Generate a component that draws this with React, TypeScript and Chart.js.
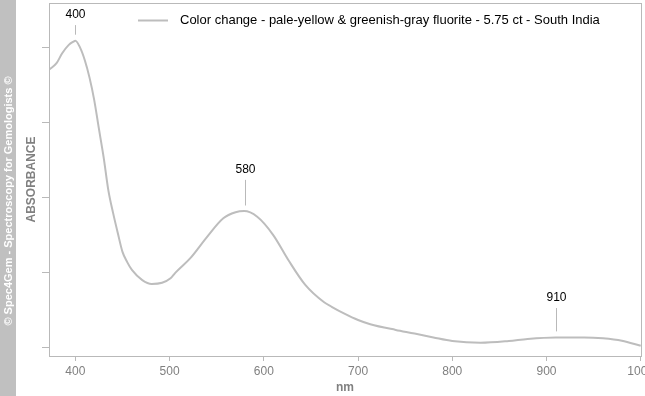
import React, { useEffect, useRef } from "react";
import { Chart, registerables } from "chart.js";

Chart.register(...registerables);

const wavelengths = [372, 374, 380, 386, 393, 398, 400, 405, 410, 415, 420, 425, 430, 435, 440, 445, 450, 455, 460, 471, 481, 492, 501, 506, 522, 540, 557, 570, 579, 593, 610, 626, 644, 664, 672, 685, 700, 713, 740, 760, 780, 800, 830, 860, 880, 910, 940, 960, 980, 1000];
const absorbance = [0.925, 0.929, 0.946, 0.979, 1.007, 1.018, 1.021, 0.998, 0.956, 0.898, 0.823, 0.727, 0.632, 0.522, 0.447, 0.38, 0.317, 0.283, 0.257, 0.223, 0.21, 0.214, 0.229, 0.247, 0.296, 0.368, 0.429, 0.449, 0.453, 0.434, 0.373, 0.29, 0.207, 0.149, 0.134, 0.112, 0.09, 0.076, 0.057, 0.045, 0.032, 0.02, 0.014, 0.02, 0.027, 0.032, 0.032, 0.029, 0.021, 0.004];

const xTicks = [400, 500, 600, 700, 800, 900, 1000];
const yTicks = [0, 0.25, 0.5, 0.75, 1.0];

const peakNm = [400, 580, 910];
const peakLabels = ["400", "580", "910"];
const peakLineTopAbs = [1.073, 0.557, 0.13];

const seriesLabel = "Color change - pale-yellow & greenish-gray fluorite - 5.75 ct - South India";
const copyright = "© Spec4Gem - Spectroscopy for Gemologists ©";

const LINE_COLOR = "#bdbdbd";
const AXIS_COLOR = "#b9b9b9";
const FONT = "'Liberation Sans', Arial, sans-serif";

function interp(nm: number): number {
  for (let i = 0; i < wavelengths.length - 1; i++) {
    if (nm >= wavelengths[i] && nm <= wavelengths[i + 1]) {
      const t = (nm - wavelengths[i]) / (wavelengths[i + 1] - wavelengths[i]);
      return absorbance[i] + t * (absorbance[i + 1] - absorbance[i]);
    }
  }
  return absorbance[absorbance.length - 1];
}

const decorPlugin = {
  id: "decor",
  beforeDraw(chart: any) {
    const ctx = chart.ctx;
    ctx.save();
    ctx.fillStyle = "#ffffff";
    ctx.fillRect(0, 0, chart.width, chart.height);
    ctx.restore();
  },
  afterDraw(chart: any) {
    const ctx = chart.ctx;
    const { left, right, top, bottom } = chart.chartArea;
    const xs = chart.scales.x;
    const ys = chart.scales.y;
    ctx.save();
    // frame
    ctx.strokeStyle = AXIS_COLOR;
    ctx.lineWidth = 1;
    ctx.strokeRect(Math.round(left) + 0.5, Math.round(top) + 0.5, Math.round(right - left), Math.round(bottom - top));

    // copyright strip
    ctx.fillStyle = "#c0c0c0";
    ctx.fillRect(0, 0, 16, chart.height);
    ctx.translate(8.5, 201);
    ctx.rotate(-Math.PI / 2);
    ctx.fillStyle = "#ffffff";
    ctx.font = "bold 11px 'Liberation Sans', sans-serif";
    ctx.textAlign = "center";
    ctx.textBaseline = "middle";
    ctx.fillText(copyright, 0, 0);
    ctx.setTransform(1, 0, 0, 1, 0, 0);

    // legend
    ctx.strokeStyle = LINE_COLOR;
    ctx.lineWidth = 2;
    ctx.beginPath();
    ctx.moveTo(138, 20.5);
    ctx.lineTo(168, 20.5);
    ctx.stroke();
    ctx.fillStyle = "#000000";
    ctx.font = "13px " + FONT;
    ctx.textAlign = "left";
    ctx.textBaseline = "middle";
    ctx.fillText(seriesLabel, 180, 20.5);

    // peak annotations
    ctx.strokeStyle = AXIS_COLOR;
    ctx.lineWidth = 1;
    ctx.textAlign = "center";
    ctx.font = "12px " + FONT;
    peakNm.forEach((nm, i) => {
      const px = Math.round(xs.getPixelForValue(nm)) + 0.5;
      const curveY = ys.getPixelForValue(interp(nm));
      const topY = ys.getPixelForValue(peakLineTopAbs[i]);
      ctx.beginPath();
      ctx.moveTo(px, curveY - 6);
      ctx.lineTo(px, topY);
      ctx.stroke();
      ctx.fillText(peakLabels[i], px, topY - 10);
    });
    ctx.restore();
  },
};

export default function App() {
  const ref = useRef<HTMLCanvasElement>(null);
  useEffect(() => {
    document.body.style.margin = "0";
    const data = wavelengths.map((w, i) => ({ x: w, y: absorbance[i] }));
    const chart = new Chart(ref.current as HTMLCanvasElement, {
      type: "line",
      data: {
        datasets: [
          {
            label: seriesLabel,
            data,
            borderColor: LINE_COLOR,
            borderWidth: 2,
            pointRadius: 0,
            cubicInterpolationMode: "monotone",
            fill: false,
          },
        ],
      },
      options: {
        animation: false,
        responsive: false,
        maintainAspectRatio: false,
        layout: { padding: { left: 0, right: 4, top: 3, bottom: 0 } },
        plugins: { legend: { display: false }, tooltip: { enabled: false } },
        scales: {
          x: {
            type: "linear",
            min: 372,
            max: 1000.3,
            afterBuildTicks: (s: any) => {
              s.ticks = xTicks.map((v) => ({ value: v }));
            },
            afterFit: (s: any) => {
              s.height = 40;
              s.paddingLeft = 0;
              s.paddingRight = 0;
            },
            grid: { drawOnChartArea: false, drawTicks: true, tickLength: 5, color: AXIS_COLOR },
            border: { display: true, color: AXIS_COLOR },
            ticks: {
              color: "#808080",
              font: { family: FONT, size: 12 },
              padding: 3,
              maxRotation: 0,
              autoSkip: false,
              callback: (v: any) => String(v),
            },
            title: {
              display: true,
              text: "nm",
              color: "#808080",
              font: { family: FONT, size: 12, weight: "bold" },
              padding: { top: 0, bottom: 1.5 },
            },
          },
          y: {
            type: "linear",
            min: -0.03,
            max: 1.1467,
            afterBuildTicks: (s: any) => {
              s.ticks = yTicks.map((v) => ({ value: v }));
            },
            afterFit: (s: any) => {
              s.width = 49;
              s.paddingTop = 0;
              s.paddingBottom = 0;
            },
            grid: { drawOnChartArea: false, drawTicks: true, tickLength: 7, color: AXIS_COLOR },
            border: { display: true, color: AXIS_COLOR },
            ticks: { display: false },
            title: {
              display: true,
              text: "ABSORBANCE",
              color: "#808080",
              font: { family: FONT, size: 12, weight: "bold" },
              padding: { top: 24, bottom: 0 },
            },
          },
        },
      },
      plugins: [decorPlugin],
    } as any);
    return () => chart.destroy();
  }, []);
  return (
    <div style={{ position: "absolute", left: 0, top: 0, width: 645, height: 396 }}>
      <canvas ref={ref} width={645} height={396} style={{ display: "block" }} />
    </div>
  );
}
